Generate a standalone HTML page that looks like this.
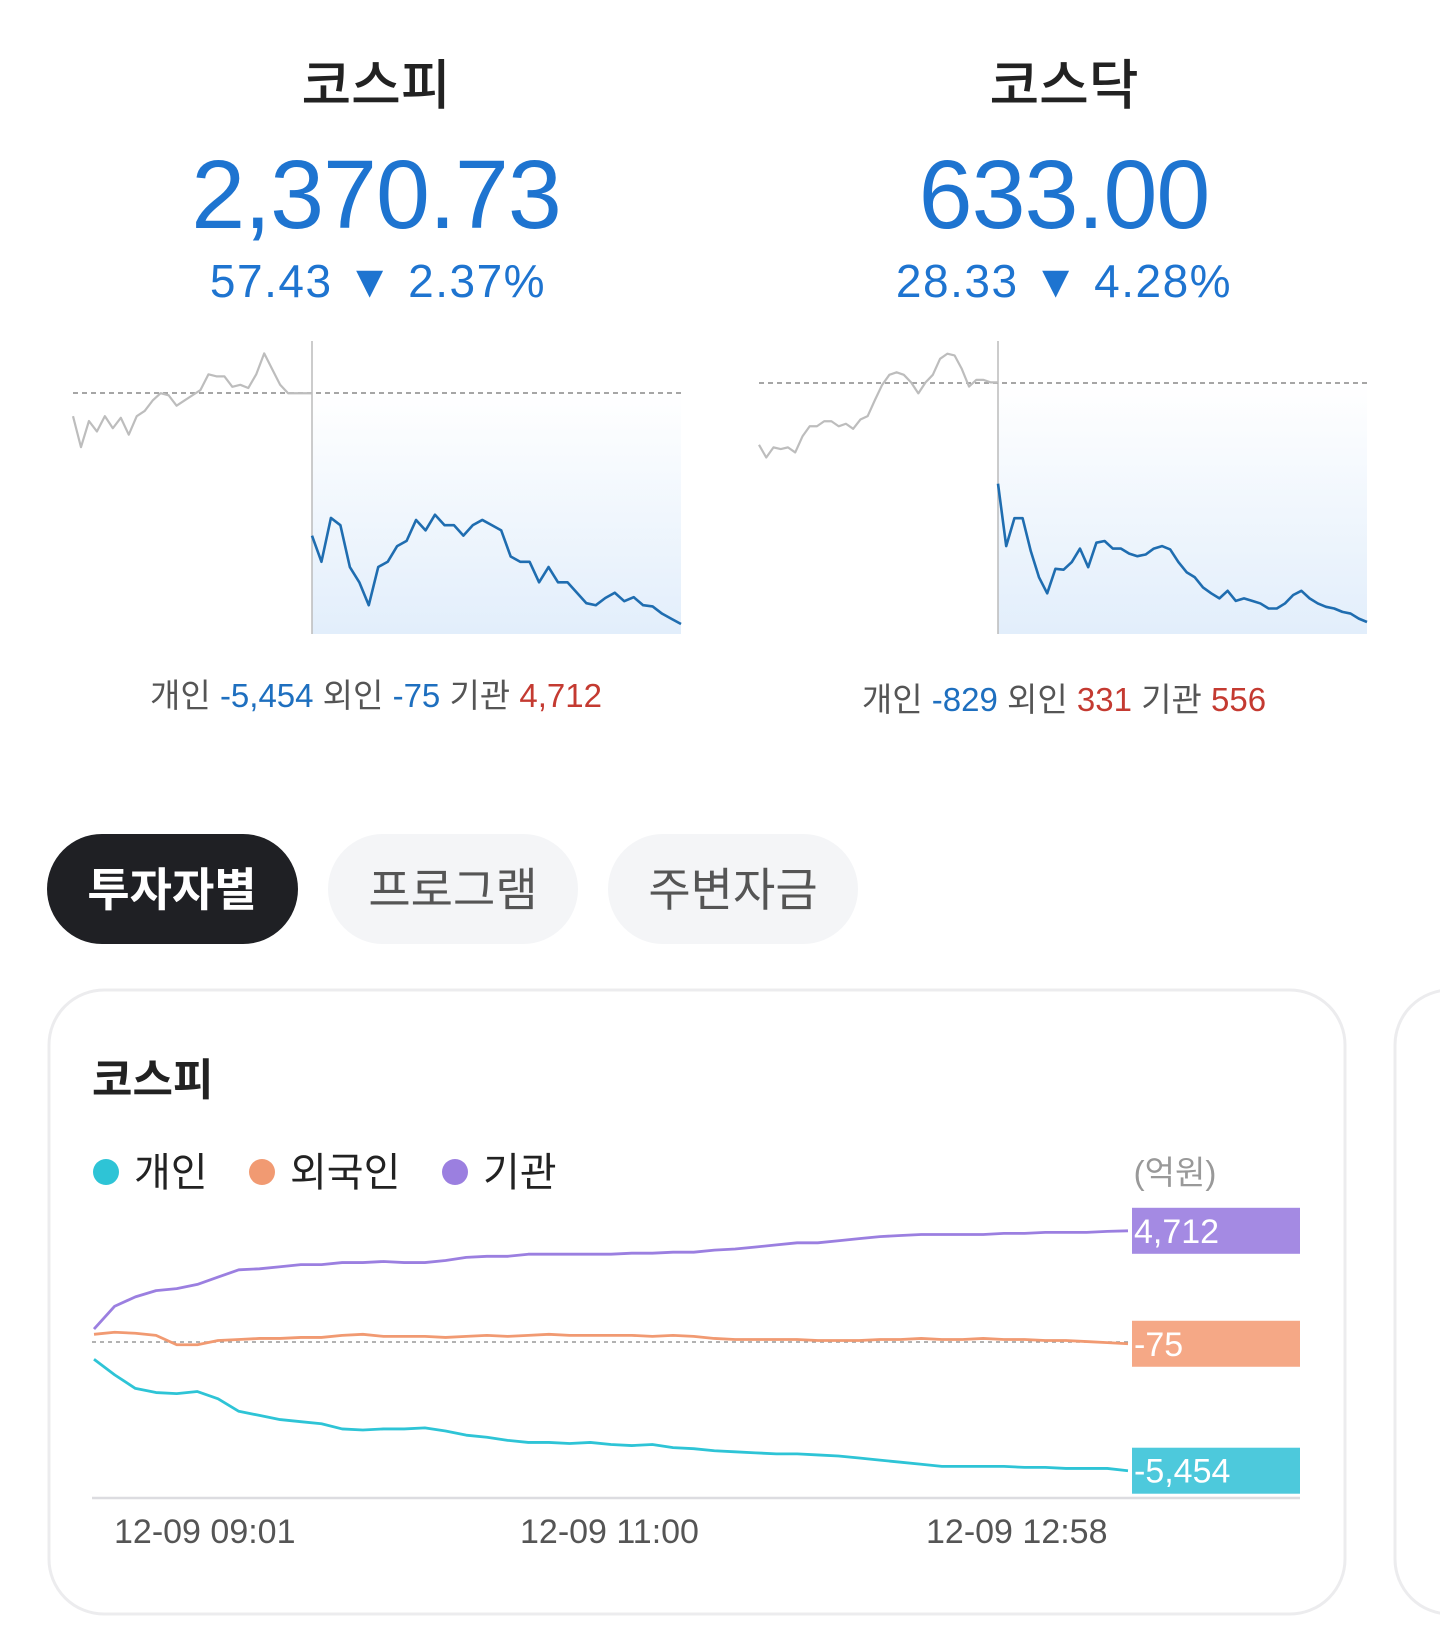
<!DOCTYPE html>
<html><head><meta charset="utf-8">
<style>
html,body{margin:0;padding:0;background:#fff;}
svg{display:block;font-family:"Liberation Sans","Noto Sans CJK KR",sans-serif;}
</style></head>
<body>
<svg id="page" width="1440" height="1628" viewBox="0 0 1440 1628" xmlns="http://www.w3.org/2000/svg">
<defs>
<linearGradient id="fillg" x1="0" y1="0" x2="0" y2="1">
<stop offset="0" stop-color="#ffffff"/><stop offset="1" stop-color="#e2eefb"/>
</linearGradient>
</defs>
<!-- KOSPI summary -->
<text x="376" y="104" text-anchor="middle" font-size="54" font-weight="500" fill="#222">코스피</text>
<text x="376" y="228" text-anchor="middle" font-size="97" letter-spacing="-1" fill="#1e74d0">2,370.73</text>
<text x="378" y="297" text-anchor="middle" font-size="46" letter-spacing="1.5" fill="#1e74d0">57.43 ▼ 2.37%</text>
<text x="376" y="707" text-anchor="middle" font-size="33" fill="#555">개인 <tspan fill="#1e6fbf">-5,454</tspan> 외인 <tspan fill="#1e6fbf">-75</tspan> 기관 <tspan fill="#c43a31">4,712</tspan></text>
<!-- KOSDAQ summary -->
<text x="1064" y="104" text-anchor="middle" font-size="54" font-weight="500" fill="#222">코스닥</text>
<text x="1064" y="228" text-anchor="middle" font-size="97" letter-spacing="-1" fill="#1e74d0">633.00</text>
<text x="1064" y="297" text-anchor="middle" font-size="46" letter-spacing="1.5" fill="#1e74d0">28.33 ▼ 4.28%</text>
<text x="1064" y="711" text-anchor="middle" font-size="33" fill="#555">개인 <tspan fill="#1e6fbf">-829</tspan> 외인 <tspan fill="#c43a31">331</tspan> 기관 <tspan fill="#c43a31">556</tspan></text>

<g id="mini-charts"></g>

<!-- Tabs -->
<g>
<rect x="47" y="834" width="251" height="110" rx="55" fill="#1f2024"/>
<text x="172" y="906" text-anchor="middle" font-size="46" font-weight="bold" fill="#fff">투자자별</text>
</g>
<g>
<rect x="328" y="834" width="250" height="110" rx="55" fill="#f4f5f7"/>
<text x="453" y="906" text-anchor="middle" font-size="46" fill="#555">프로그램</text>
</g>
<g>
<rect x="608" y="834" width="250" height="110" rx="55" fill="#f4f5f7"/>
<text x="733" y="906" text-anchor="middle" font-size="46" fill="#555">주변자금</text>
</g>

<!-- Card -->
<rect x="49" y="990" width="1296" height="624" rx="55" fill="#fff" stroke="#ececee" stroke-width="3"/>
<rect x="1395" y="990" width="200" height="624" rx="55" fill="#fff" stroke="#ececee" stroke-width="3"/>
<text x="92" y="1095" font-size="44" font-weight="bold" fill="#222">코스피</text>
<g><circle cx="106" cy="1172" r="13" fill="#2ec4d6"/><text x="134" y="1186" font-size="40" fill="#222">개인</text></g>
<g><circle cx="262" cy="1172" r="13" fill="#f19a72"/><text x="290" y="1186" font-size="40" fill="#222">외국인</text></g>
<g><circle cx="455" cy="1172" r="13" fill="#9b7fe0"/><text x="483" y="1186" font-size="40" fill="#222">기관</text></g>
<text x="1175" y="1184" text-anchor="middle" font-size="33" fill="#999">(억원)</text>
<g id="flow-chart"></g>
</svg>
<script>
// ===== mini chart data =====
const kospiPrevClose = 2428.16;
const kospiPrevDay = [2422.4,2414.7,2421.2,2418.6,2422.4,2419.4,2422,2417.8,2422.4,2423.7,2426.3,2428.1,2427.6,2425,2426.3,2427.6,2428.9,2432.8,2432.3,2432.3,2429.7,2430.2,2429.4,2432.8,2438,2434.1,2430.2,2428.1,2428.1,2428.1,2428.1];
const kospiToday = [2392.7,2386.2,2397.1,2395.3,2384.9,2381.1,2375.4,2384.9,2386.2,2390.1,2391.4,2396.6,2394,2397.9,2395.3,2395.3,2392.7,2395.3,2396.6,2395.3,2394,2387.5,2386.2,2386.2,2381.1,2384.9,2381.1,2381.1,2378.5,2375.9,2375.4,2377.2,2378.5,2376.4,2377.4,2375.4,2375.1,2373.3,2372,2370.73];
const kosdaqPrevClose = 661.33;
const kosdaqPrevDay = [654,652.5,653.7,653.5,653.7,653.1,655,656.2,656.2,656.8,656.8,656.2,656.5,655.9,657,657.4,659.3,661.1,662.3,662.6,662.3,661.4,660.1,661.4,662.3,664.2,664.8,664.6,663,660.9,661.7,661.7,661.4,661.4];
const kosdaqToday = [649.4,642,645.3,645.3,641.4,638.3,636.4,639.3,639.2,640.1,641.7,639.5,642.4,642.6,641.7,641.7,641.1,640.8,641,641.7,642,641.6,640.1,638.9,638.3,637.1,636.4,635.8,636.7,635.5,635.8,635.5,635.2,634.6,634.6,635.2,636.2,636.7,635.8,635.2,634.8,634.6,634.2,634,633.4,633];

// ===== investor flow data (억원) =====
const flowTickLabels = ["12-09 09:01","12-09 11:00","12-09 12:58"];
const individual = [-732,-1393,-1966,-2142,-2186,-2098,-2406,-2935,-3111,-3287,-3376,-3464,-3684,-3728,-3684,-3684,-3640,-3772,-3948,-4036,-4168,-4256,-4256,-4300,-4256,-4344,-4388,-4344,-4476,-4520,-4608,-4653,-4697,-4741,-4741,-4785,-4829,-4917,-5005,-5093,-5181,-5270,-5270,-5270,-5270,-5314,-5314,-5358,-5358,-5358,-5454];
const foreign = [326,414,370,282,-115,-115,62,106,150,150,194,194,282,326,238,238,238,194,238,282,238,282,326,282,282,282,282,238,282,238,150,106,106,106,106,62,62,62,106,106,150,106,106,150,106,106,62,62,18,-26,-75];
const institution = [546,1516,1911,2177,2263,2441,2750,3058,3101,3189,3278,3278,3366,3366,3411,3366,3366,3453,3585,3631,3631,3720,3720,3720,3720,3720,3763,3763,3805,3805,3894,3941,4025,4114,4203,4203,4292,4381,4466,4513,4555,4555,4555,4555,4602,4602,4644,4644,4644,4686,4712];

const NS = "http://www.w3.org/2000/svg";
function mk(tag, attrs, parent){ const e=document.createElementNS(NS,tag); for(const k in attrs) e.setAttribute(k,attrs[k]); parent.appendChild(e); return e; }
function fmt(v){ const s=Math.abs(v).toString().replace(/\B(?=(\d{3})+(?!\d))/g,","); return (v<0?"-":"")+s; }

function miniChart(parent, name, x0, xv, x1, top, bottom, prevClose, refY, closeY, prev, today){
  const last = today[today.length-1];
  const k = (closeY-refY)/(prevClose-last);
  const y = v => refY + (prevClose - v)*k;
  const g = mk("g",{},parent);
  
  
  const area = mk("rect",{x:xv,y:refY,width:x1-xv,height:bottom-refY,fill:"url(#fillg)"},g);
  
  
  const vl = mk("line",{x1:xv,x2:xv,y1:top,y2:bottom,stroke:"#bbb","stroke-width":1.5},g);
  
  
  const dl = mk("line",{x1:x0,x2:x1,y1:refY,y2:refY,stroke:"#999","stroke-width":1.8,"stroke-dasharray":"5 4"},g);
  
  
  const px = i => x0 + i*(xv-x0)/(prev.length-1);
  const gp = mk("polyline",{points:prev.map((v,i)=>px(i)+","+y(v)).join(" "),fill:"none",stroke:"#bdbdbd","stroke-width":2.2,"stroke-linejoin":"round"},g);
  
  
  const tx = i => xv + i*(x1-xv)/(today.length-1);
  const bp = mk("polyline",{points:today.map((v,i)=>tx(i)+","+y(v)).join(" "),fill:"none",stroke:"#1f6db0","stroke-width":2.6,"stroke-linejoin":"round"},g);
  
  
}
const mini = document.getElementById("mini-charts");
miniChart(mini,"kospi-mini-chart",73,312,681,341,634,kospiPrevClose,393,624,kospiPrevDay,kospiToday);
miniChart(mini,"kosdaq-mini-chart",759,998,1367,341,634,kosdaqPrevClose,383,622,kosdaqPrevDay,kosdaqToday);

// flow chart
const fc = document.getElementById("flow-chart");
const X0=94, X1=1128, Y0=1342, KY=0.0236;
const fx = i => X0 + i*(X1-X0)/(individual.length-1);
const fy = v => Y0 - v*KY;
const zl = mk("line",{x1:92,x2:1130,y1:Y0,y2:Y0,stroke:"#999","stroke-width":1.5,"stroke-dasharray":"4 4"},fc);


const ax = mk("line",{x1:92,x2:1300,y1:1498,y2:1498,stroke:"#dcdce0","stroke-width":2.5},fc);


const tickX = [114,520,926];
flowTickLabels.forEach((t,i)=>{
  const e = mk("text",{x:tickX[i],y:1543,"font-size":34,fill:"#555"},fc);
  e.textContent = t;
  
  
});
const series = [
  {name:"institution", data:institution, c:"#9b7fe0", box:"#a48ae3"},
  {name:"foreign", data:foreign, c:"#f19a72", box:"#f5a886"},
  {name:"individual", data:individual, c:"#2ec4d6", box:"#4dc9dc"}
];
series.forEach(s=>{
  const p = mk("polyline",{points:s.data.map((v,i)=>fx(i)+","+fy(v)).join(" "),fill:"none",stroke:s.c,"stroke-width":2.8,"stroke-linejoin":"round"},fc);
  
  
  const last = s.data[s.data.length-1];
  const ly = fy(last);
  const b = mk("rect",{x:1132,y:ly-23,width:168,height:46,fill:s.box},fc);
  
  
  const t = mk("text",{x:1134,y:ly+12,"font-size":34,fill:"#fff"},fc);
  t.textContent = fmt(last);
  
  
});
</script>
</body></html>
